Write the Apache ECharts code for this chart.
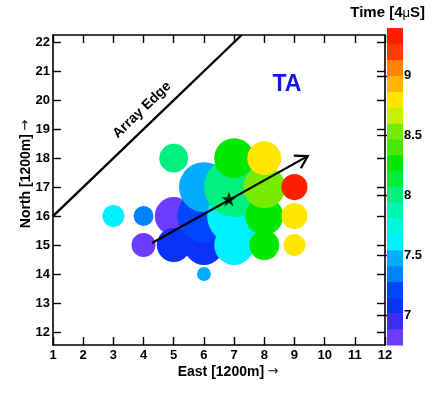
<!DOCTYPE html>
<html><head><meta charset="utf-8">
<script src="https://cdn.jsdelivr.net/npm/echarts@6/dist/echarts.min.js"></script>
<style>html,body{margin:0;padding:0;background:#fff}#c{width:436px;height:396px}</style>
</head><body><div id="c"></div>
<script>
// Detector hits (sorted by arrival time, later hits drawn on top)
const hitEast   = [4, 5, 5, 6, 6, 4, 6, 6, 3, 7, 7, 7, 5, 8, 8, 7, 8, 8, 9, 9, 9];
const hitNorth  = [15,16,15,15,16,16,14,17,16,15,16,17,18,15,16,18,17,18,16,15,17];
const hitTime   = [6.80,6.82,7.05,7.07,7.20,7.33,7.45,7.47,7.60,7.61,7.63,7.96,7.98,8.24,8.25,8.26,8.50,8.80,8.82,8.85,9.30];
const hitCharge = [16,40,32,44,78,11,5.4,69,13.4,44,81,100,23,25,40,44,49,32,19,13.4,19];

const xTicks = [1,2,3,4,5,6,7,8,9,10,11,12];
const yTicks = [12,13,14,15,16,17,18,19,20,21,22];
const timeTicks = [7,7.5,8,8.5,9];

const corePoint = [6.83, 16.59];
const axisArrow = [4.28, 15.07, 9.44, 18.07];
const arrayEdge = [[1,16],[7.25,22.25]];

const timeMin = 6.75, timeMax = 9.4;
const paletteColors = ['#6e3cff','#3c2cf5','#0a32f5','#0046ff','#0082ff','#00adff','#00f0ff','#00f8dc','#00f4b4','#00f080',
                       '#00ec3c','#00e800','#48e800','#78ec00','#c8f000','#ffe600','#ffb400','#ff8200','#ff3c00','#ff1e00'];

const step = (timeMax - timeMin) / paletteColors.length;
const bands = paletteColors.map((c,i)=>({lo: timeMin + i*step, hi: timeMin + (i+1)*step, color: c}));

const FONT = 'Liberation Sans';
const chart = echarts.init(document.getElementById('c'));

const frameLine = {show:true, lineStyle:{color:'#000', width:1.6}};
const tickIn = {show:true, inside:true, length:8, lineStyle:{color:'#000', width:1.4}};

chart.setOption({
  animation:false,
  backgroundColor:'#fff',
  grid:[
    {left:53, top:35, width:332, height:310, show:false},
    {left:387, top:28, width:16, height:317, show:false}
  ],
  xAxis:[
    {type:'value', gridIndex:0, min:1, max:12, interval:1, position:'bottom',
     axisLine:frameLine, axisTick:tickIn, splitLine:{show:false},
     axisLabel:{margin:4, color:'#000', fontFamily:FONT, fontWeight:'bold', fontSize:13}},
    {type:'value', gridIndex:0, min:1, max:12, interval:1, position:'top',
     axisLine:frameLine, axisTick:tickIn, splitLine:{show:false}, axisLabel:{show:false}},
    {type:'value', gridIndex:1, min:0, max:1, show:false}
  ],
  yAxis:[
    {type:'value', gridIndex:0, min:11.55, max:22.25, position:'left',
     axisLine:frameLine, axisTick:Object.assign({customValues:yTicks}, tickIn), splitLine:{show:false},
     axisLabel:{customValues:yTicks, margin:3, color:'#000', fontFamily:FONT, fontWeight:'bold', fontSize:13}},
    {type:'value', gridIndex:0, min:11.55, max:22.25, position:'right',
     axisLine:frameLine, axisTick:Object.assign({customValues:yTicks}, tickIn), splitLine:{show:false},
     axisLabel:{show:false}},
    {type:'value', gridIndex:1, min:timeMin, max:timeMax, position:'right',
     axisLine:{show:false}, splitLine:{show:false},
     axisTick:{show:true, inside:true, length:10, customValues:timeTicks, lineStyle:{color:'#000', width:1.4}},
     axisLabel:{customValues:timeTicks, margin:1, color:'#000', fontFamily:FONT, fontWeight:'bold', fontSize:13}}
  ],
  visualMap:{
    type:'piecewise', show:false, seriesIndex:0, dimension:2,
    pieces: bands.map(b=>({gte:b.lo, lt:b.hi, color:b.color}))
  },
  series:[
    {type:'scatter', xAxisIndex:0, yAxisIndex:0, silent:true,
     data: hitEast.map((x,i)=>[x, hitNorth[i], hitTime[i], hitCharge[i]]),
     symbol:'circle',
     symbolSize: v => 6*Math.sqrt(v[3]),
     itemStyle:{opacity:1}},
    {type:'line', xAxisIndex:0, yAxisIndex:0, silent:true, data:arrayEdge, showSymbol:false,
     lineStyle:{color:'#000', width:2.4}, clip:true, z:3},
    {type:'custom', xAxisIndex:0, yAxisIndex:0, silent:true, z:4,
     data:[axisArrow], encode:{x:[0,2], y:[1,3]},
     renderItem:function(params, api){
       const p0 = api.coord([api.value(0), api.value(1)]);
       const p1 = api.coord([api.value(2), api.value(3)]);
       const ang = Math.atan2(p0[1]-p1[1], p0[0]-p1[0]);
       const L = 14, a = 0.55;
       const h1 = [p1[0]+L*Math.cos(ang+a), p1[1]+L*Math.sin(ang+a)];
       const h2 = [p1[0]+L*Math.cos(ang-a), p1[1]+L*Math.sin(ang-a)];
       return {type:'group', children:[
         {type:'line', shape:{x1:p0[0], y1:p0[1], x2:p1[0], y2:p1[1]}, style:{stroke:'#000', lineWidth:2.2}},
         {type:'polyline', shape:{points:[h1,p1,h2]}, style:{stroke:'#000', lineWidth:2.2, fill:null}}
       ]};
     }},
    {type:'scatter', xAxisIndex:0, yAxisIndex:0, silent:true, z:5,
     data:[corePoint],
     symbol:'path://M50,0 L61,35 L98,35 L68,57 L79,91 L50,70 L21,91 L32,57 L2,35 L39,35 Z',
     symbolSize:15, itemStyle:{color:'#000'}},
    {type:'custom', xAxisIndex:2, yAxisIndex:2, silent:true,
     data: bands.map(b=>[0, b.lo, b.hi]), encode:{x:0, y:[1,2]},
     renderItem:function(params, api){
       const a = api.coord([0, api.value(2)]);
       const b = api.coord([1, api.value(1)]);
       return {type:'rect', shape:{x:a[0], y:a[1], width:b[0]-a[0], height:b[1]-a[1]+0.5},
               style:{fill: bands[params.dataIndex].color}};
     }}
  ],
  graphic:[
    {type:'text', x:228, y:372, style:{text:'{b|East [1200m]} {a|→}', align:'center', verticalAlign:'middle',
      rich:{b:{fontFamily:FONT, fontWeight:'bold', fontSize:14, fill:'#000'}, a:{fontFamily:'DejaVu Sans', fontSize:13, fill:'#000'}}}},
    {type:'text', x:26, y:174, rotation:Math.PI/2, style:{text:'{b|North [1200m]} {a|→}', align:'center', verticalAlign:'middle',
      rich:{b:{fontFamily:FONT, fontWeight:'bold', fontSize:14, fill:'#000'}, a:{fontFamily:'DejaVu Sans', fontSize:13, fill:'#000'}}}},
    {type:'text', x:425, y:13, style:{text:'{b|Time [4}{m|μ}{b|S]}', align:'right', verticalAlign:'middle',
      rich:{b:{fontFamily:FONT, fontWeight:'bold', fontSize:15, fill:'#000'}, m:{fontFamily:FONT, fontSize:13, fill:'#000'}}}},
    {type:'text', x:287, y:85, style:{text:'TA', align:'center', verticalAlign:'middle',
      fontFamily:FONT, fontWeight:'bold', fontSize:23, fill:'#1414e6'}},
    {type:'text', x:142, y:110, rotation:0.765, style:{text:'Array Edge', align:'center', verticalAlign:'middle',
      fontFamily:FONT, fontWeight:'bold', fontSize:14, fill:'#000'}}
  ]
});
</script></body></html>
